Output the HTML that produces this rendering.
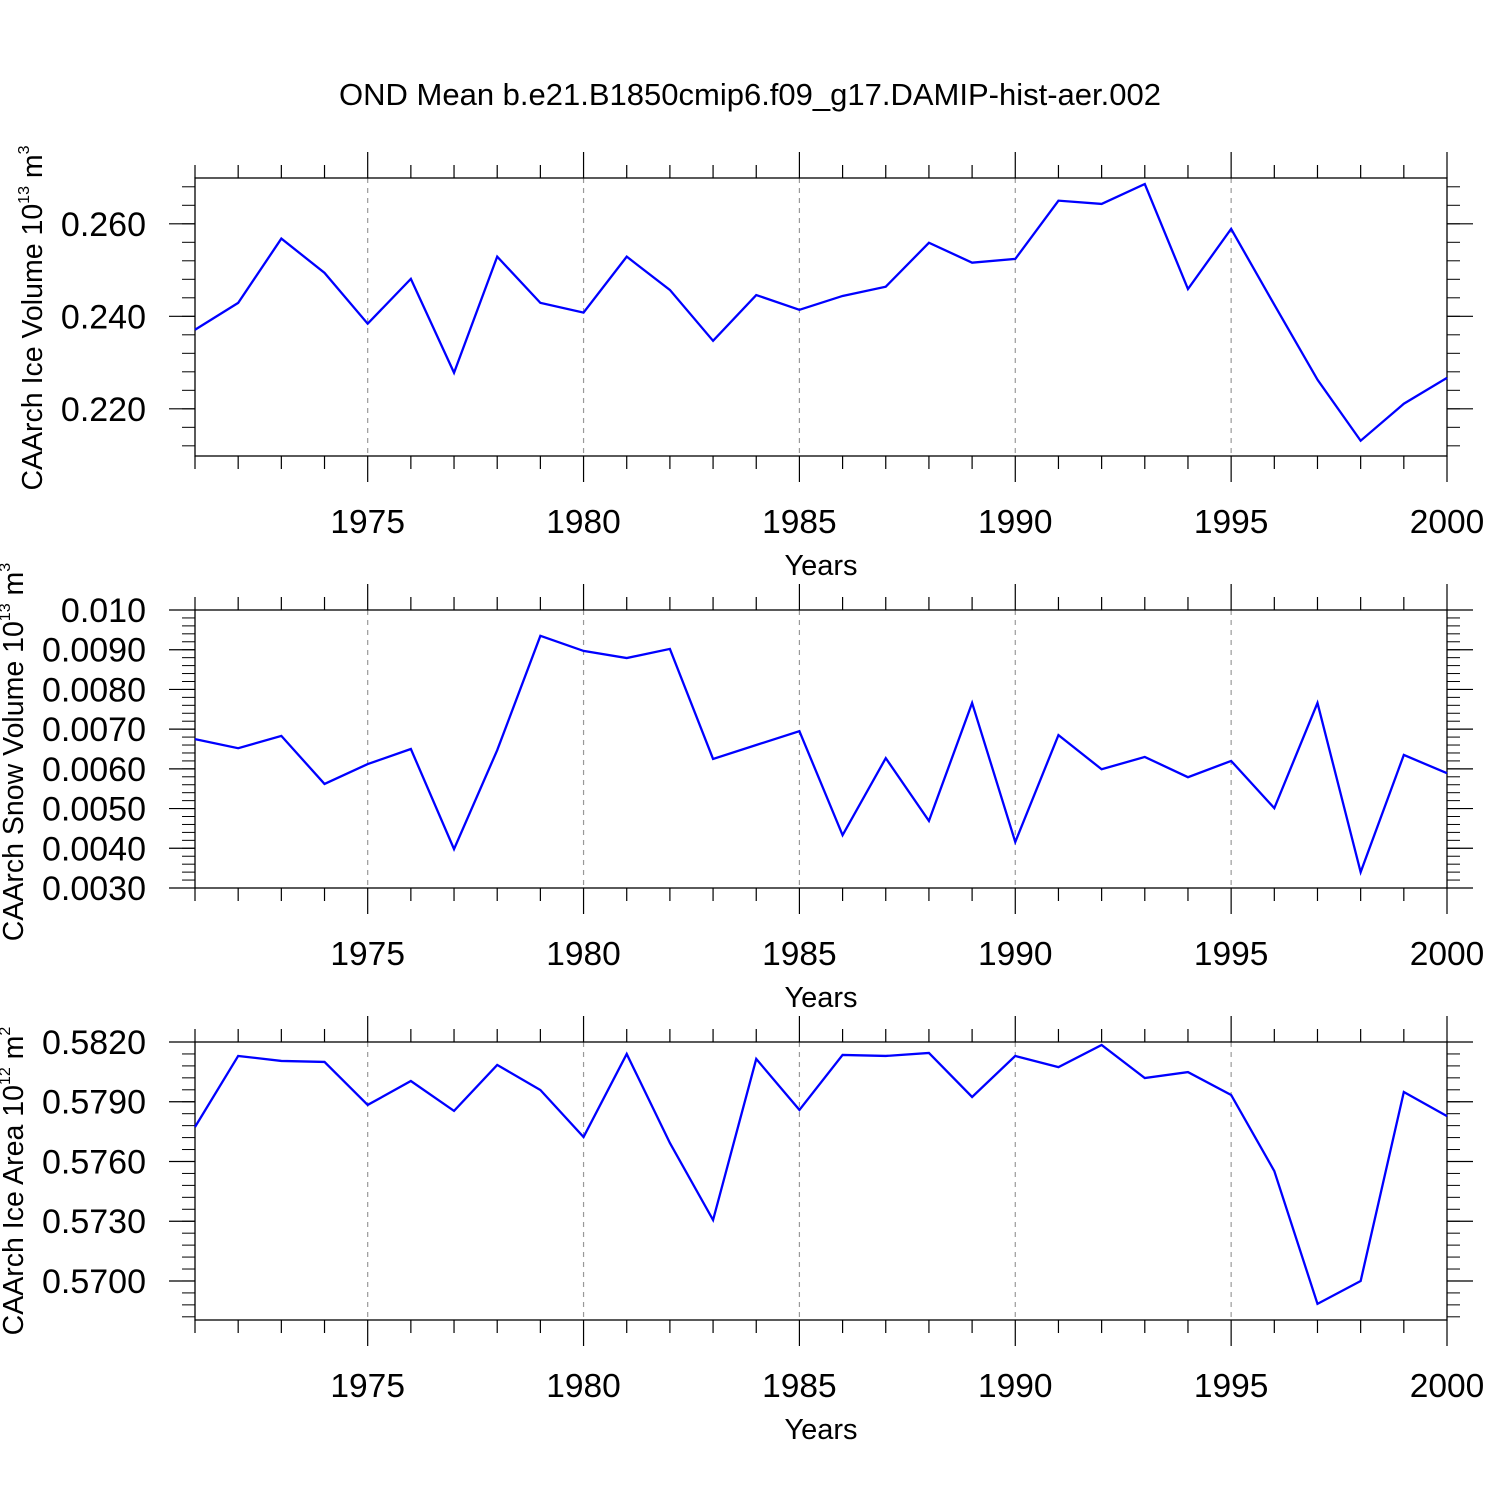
<!DOCTYPE html>
<html><head><meta charset="utf-8"><style>
body{margin:0;background:#fff;}
svg{display:block;font-family:"Liberation Sans",sans-serif;}
</style></head><body>
<svg id="chart" width="1500" height="1500" viewBox="0 0 1500 1500">
<text x="750" y="105" text-anchor="middle" font-size="31">OND Mean b.e21.B1850cmip6.f09_g17.DAMIP-hist-aer.002</text>
</svg>
<script>
const years = [1971,1972,1973,1974,1975,1976,1977,1978,1979,1980,1981,1982,1983,1984,1985,1986,1987,1988,1989,1990,1991,1992,1993,1994,1995,1996,1997,1998,1999,2000];
const iceVolume = [0.2371,0.2429,0.2568,0.2494,0.2384,0.2481,0.2278,0.2529,0.2429,0.2408,0.2529,0.2457,0.2347,0.2446,0.2414,0.2444,0.2464,0.2559,0.2516,0.2524,0.2650,0.2643,0.2686,0.2459,0.2589,0.2425,0.2263,0.2131,0.2211,0.2267];
const snowVolume = [0.00675,0.00652,0.00683,0.00562,0.00612,0.00650,0.00398,0.00647,0.00935,0.00897,0.00879,0.00902,0.00625,0.00660,0.00695,0.00433,0.00627,0.00469,0.00766,0.00416,0.00685,0.00599,0.00630,0.00579,0.00620,0.00501,0.00766,0.00340,0.00635,0.00589];
const iceArea = [0.57773,0.58130,0.58105,0.58100,0.57884,0.58004,0.57854,0.58085,0.57959,0.57723,0.58140,0.57693,0.57306,0.58115,0.57859,0.58135,0.58130,0.58145,0.57924,0.58130,0.58074,0.58185,0.58019,0.58049,0.57934,0.57552,0.56885,0.57000,0.57949,0.57828];
const xTickLabels = ["1975","1980","1985","1990","1995","2000"];
const iceVolumeTicks = ["0.220","0.240","0.260"];
const snowVolumeTicks = ["0.0030","0.0040","0.0050","0.0060","0.0070","0.0080","0.0090","0.010"];
const iceAreaTicks = ["0.5700","0.5730","0.5760","0.5790","0.5820"];

const NS="http://www.w3.org/2000/svg";
const svg=document.getElementById('chart');
function mk(tag,attrs,parent){const e=document.createElementNS(NS,tag);for(const k in attrs)e.setAttribute(k,attrs[k]);(parent||svg).appendChild(e);return e;}

const X0=195,X1=1447,XMIN=1971,XMAX=2000;
function xs(v){return X0+(v-XMIN)/(XMAX-XMIN)*(X1-X0);}

const panels=[
 {name:'ice-volume',top:178,bot:456,ymin:0.2098,ymax:0.2699,data:iceVolume,ticks:iceVolumeTicks,minor:0.004,title:'CAArch Ice Volume 10',exp:'13',unit:' m',uexp:'3',ty:318,tx:42},
 {name:'snow-volume',top:610,bot:888,ymin:0.0030,ymax:0.010,data:snowVolume,ticks:snowVolumeTicks,minor:0.0002,title:'CAArch Snow Volume 10',exp:'13',unit:' m',uexp:'3',ty:752,tx:23},
 {name:'ice-area',top:1042,bot:1320,ymin:0.56804,ymax:0.5820,data:iceArea,ticks:iceAreaTicks,minor:0.0006,title:'CAArch Ice Area 10',exp:'12',unit:' m',uexp:'2',ty:1181,tx:23}
];

panels.forEach(p=>{
 const g=mk('g',{});
 
 
 const ys=v=>p.bot-(v-p.ymin)/(p.ymax-p.ymin)*(p.bot-p.top);
 xTickLabels.forEach(l=>{const x=xs(+l);if(x<X1-1){const gl=mk('line',{x1:x,x2:x,y1:p.top,y2:p.bot,stroke:'#999','stroke-width':1.2,'stroke-dasharray':'5,5'},g);
 
 }});
 const box=mk('rect',{x:X0,y:p.top,width:X1-X0,height:p.bot-p.top,fill:'none',stroke:'#000','stroke-width':1.3},g);
 
 
 for(let yr=XMIN;yr<=XMAX;yr++){
  const x=xs(yr);const major=yr%5===0;const L=major?26:13;
  mk('line',{x1:x,x2:x,y1:p.top,y2:p.top-L,stroke:'#000','stroke-width':1.2},g);
  mk('line',{x1:x,x2:x,y1:p.bot,y2:p.bot+L,stroke:'#000','stroke-width':1.2},g);
 }
 xTickLabels.forEach(l=>{const t=mk('text',{x:xs(+l),y:p.bot+77,'text-anchor':'middle','font-size':33.5},g);t.textContent=l;
 
 });
 const xt=mk('text',{x:821,y:p.bot+119,'text-anchor':'middle','font-size':29},g);xt.textContent='Years';
 
 
 const start=Math.ceil(p.ymin/p.minor-1e-6);
 for(let k=start;k*p.minor<=p.ymax+1e-9;k++){const y=ys(k*p.minor);
  mk('line',{x1:X0,x2:X0-13,y1:y,y2:y,stroke:'#000','stroke-width':1},g);
  mk('line',{x1:X1,x2:X1+13,y1:y,y2:y,stroke:'#000','stroke-width':1},g);}
 p.ticks.forEach(l=>{const y=ys(parseFloat(l));
  mk('line',{x1:X0,x2:X0-26,y1:y,y2:y,stroke:'#000','stroke-width':1.2},g);
  mk('line',{x1:X1,x2:X1+26,y1:y,y2:y,stroke:'#000','stroke-width':1.2},g);
  const t=mk('text',{x:146,y:y+12,'text-anchor':'end','font-size':34},g);t.textContent=l;
  
  });
 const yt=mk('text',{transform:`translate(${p.tx},${p.ty}) rotate(-90)`,'text-anchor':'middle','font-size':28.5},g);
 
 
 const a=mk('tspan',{},yt);a.textContent=p.title;
 const b=mk('tspan',{dy:-13,'font-size':16},yt);b.textContent=p.exp;
 const c=mk('tspan',{dy:13},yt);c.textContent=p.unit;
 const d=mk('tspan',{dy:-13,'font-size':16},yt);d.textContent=p.uexp;
 const pts=p.data.map((v,i)=>xs(years[i])+','+ys(v)).join(' ');
 const line=mk('polyline',{points:pts,fill:'none',stroke:'#0000ff','stroke-width':2.3,'stroke-linejoin':'miter'},g);
 
 
});
</script>
</body></html>
